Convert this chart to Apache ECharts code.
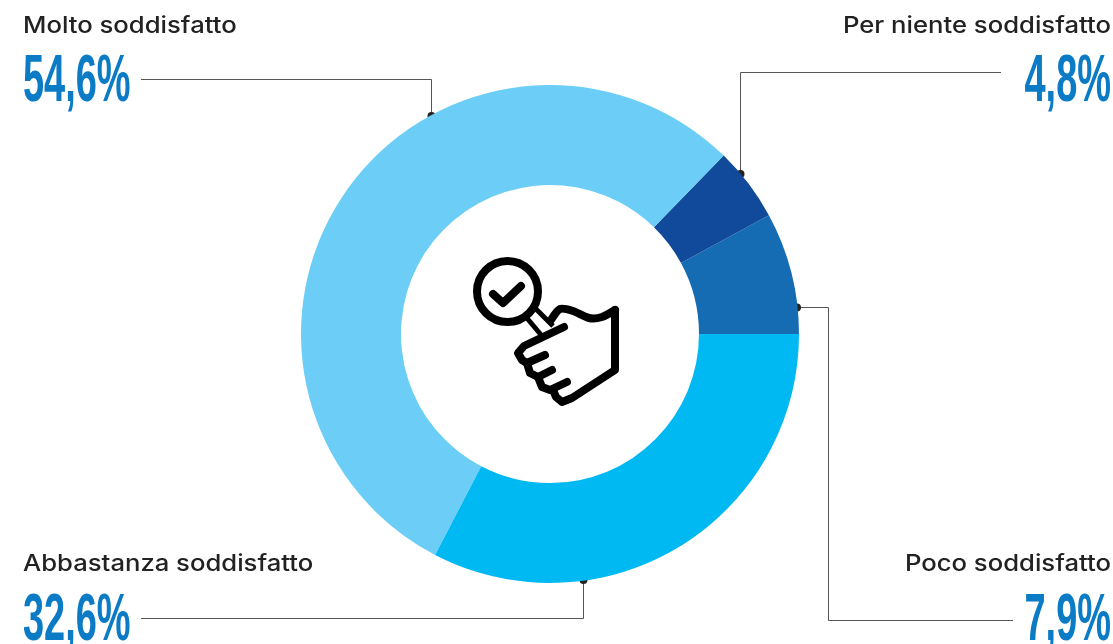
<!DOCTYPE html>
<html>
<head>
<meta charset="utf-8">
<script src="https://cdn.jsdelivr.net/npm/echarts@6/dist/echarts.min.js"></script>
<style>html,body{margin:0;padding:0;background:#fff}#c{width:1113px;height:644px}</style>
</head>
<body>
<div id="c"></div>
<script>
// Satisfaction shares, listed counter-clockwise from the 3 o'clock position
const categories = ['Poco soddisfatto', 'Per niente soddisfatto', 'Molto soddisfatto', 'Abbastanza soddisfatto'];
const shares = [7.9, 4.8, 54.6, 32.6];
const colours = ['#156CB3', '#114A9B', '#6CCEF6', '#00B9F2'];

const INK = '#222222', RULE = '#555555', BLUE = '#0A7BC4';
const pct = v => v.toFixed(1).replace('.', ',') + '%';

// Callout block for one category: caption, large figure, leader and end dot
function callout(i, opt) {
  const out = [];
  out.push({
    type: 'text', x: opt.x, y: opt.capY, scaleX: 1.14,
    style: { text: categories[i], font: '500 22.5px Inter, sans-serif', fill: INK, align: opt.align, verticalAlign: 'middle' }
  });
  out.push({
    type: 'text', x: opt.x, y: opt.numY, scaleX: 0.575,
    style: { text: pct(shares[i]), font: 'bold 66px "Liberation Sans Narrow", "Liberation Sans", sans-serif', fill: BLUE, align: opt.align, verticalAlign: 'middle' }
  });
  out.push({
    type: 'polyline', shape: { points: opt.leader },
    style: { stroke: RULE, lineWidth: 1, fill: null }
  });
  const d = opt.leader[opt.dot];
  out.push({ type: 'circle', shape: { cx: d[0], cy: d[1], r: 4 }, style: { fill: INK } });
  return out;
}

const calloutGraphics = [
  ...callout(2, { x: 23, align: 'left', capY: 26, numY: 83, dot: 2, leader: [[141, 79.5], [431.5, 79.5], [431.5, 116]] }),
  ...callout(1, { x: 1111, align: 'right', capY: 26, numY: 83, dot: 2, leader: [[1001, 72.5], [740.5, 72.5], [740.5, 174]] }),
  ...callout(3, { x: 23, align: 'left', capY: 564, numY: 622, dot: 2, leader: [[141, 618.5], [583.5, 618.5], [583.5, 580]] }),
  ...callout(0, { x: 1111, align: 'right', capY: 564, numY: 622, dot: 0, leader: [[797, 307.5], [828.5, 307.5], [828.5, 620.5], [1013, 620.5]] })
];

// Hand holding a magnifier, centred in the ring
const iconStroke = { stroke: '#000', lineWidth: 8, fill: null, lineCap: 'round', lineJoin: 'round' };
const handIcon = {
  type: 'group', x: 460, y: 250,
  children: [
    { type: 'circle', shape: { cx: 47.5, cy: 41.5, r: 30.5 }, style: iconStroke },
    { type: 'polyline', shape: { points: [[33, 44], [43, 53], [61, 36]] }, style: iconStroke },
    { type: 'polyline', shape: { points: [[66, 67], [82, 86]] }, style: { ...iconStroke, lineCap: 'butt', lineWidth: 5 } },
    { type: 'polyline', shape: { points: [[76, 59], [93, 76]] }, style: { ...iconStroke, lineCap: 'butt', lineWidth: 5 } },
    { type: 'polyline', shape: { smooth: 0.25, points: [[91, 70], [100, 59], [113, 61], [129, 68], [142, 67], [155, 60]] }, style: iconStroke },
    { type: 'polyline', shape: { points: [[155, 60], [155, 120], [112, 148], [102, 152], [96, 147], [93, 140]] }, style: iconStroke },
    { type: 'polyline', shape: { points: [[104, 77], [64, 96], [58, 103], [62, 110], [67, 113], [85, 105]] }, style: iconStroke },
    { type: 'polyline', shape: { points: [[67, 113], [70, 123], [78, 127], [92, 120]] }, style: iconStroke },
    { type: 'polyline', shape: { points: [[78, 127], [82, 137], [90, 140], [107, 132]] }, style: iconStroke }
  ]
};

const chart = echarts.init(document.getElementById('c'), null, { renderer: 'canvas' });
chart.setOption({
  backgroundColor: '#ffffff',
  animation: false,
  series: [{
    type: 'pie',
    center: [550, 334],
    radius: [149, 249],
    startAngle: 0,
    clockwise: false,
    label: { show: false },
    labelLine: { show: false },
    silent: true,
    data: categories.map((name, i) => ({ name, value: shares[i], itemStyle: { color: colours[i] } }))
  }],
  graphic: { elements: [...calloutGraphics, handIcon] }
});
</script>
</body>
</html>
